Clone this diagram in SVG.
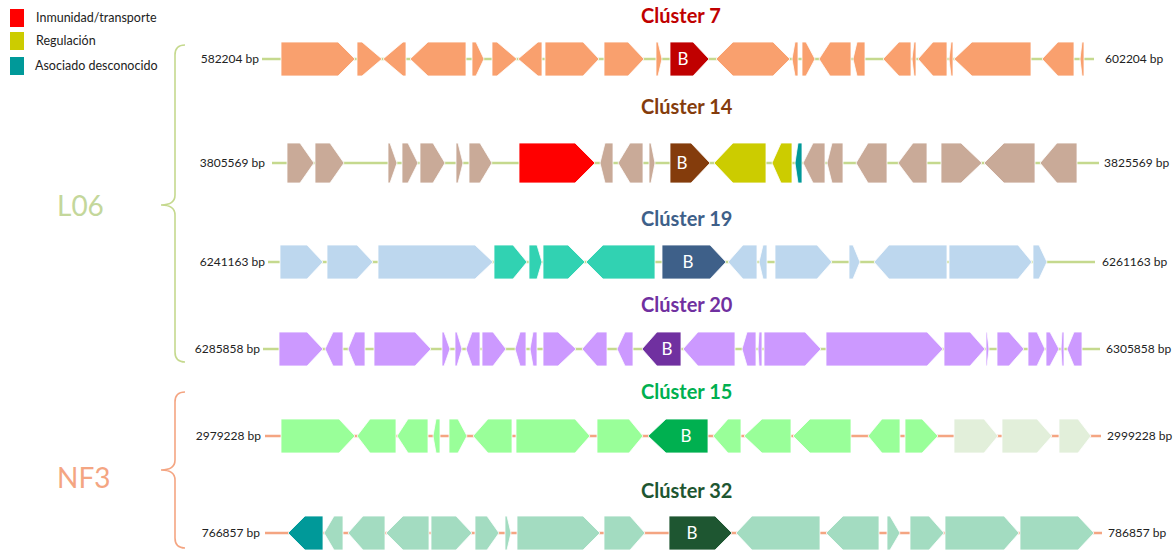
<svg xmlns="http://www.w3.org/2000/svg" width="1176" height="552" viewBox="0 0 1176 552">
<style>
text{font-family:Lato,"Liberation Sans",sans-serif}
.g polygon{stroke:#fff;stroke-width:0.8}
.c7{fill:#F9A06E}.tan{fill:#C9AA98}.lb{fill:#BDD7EE}.tq{fill:#31D2B2}.pu{fill:#CC99FF}
.lg{fill:#99FF99}.pg{fill:#E2EFDA}.mt{fill:#A3DCC1}.red{fill:#FF0000}.yel{fill:#CCCC00}.teal{fill:#009999}
.lnG{stroke:#C5D98E;stroke-width:2.5}.lnO{stroke:#F4A582;stroke-width:2.5}
.bp{font-size:12px;fill:#222}
.ttl{font-size:20px;font-weight:bold}
.b{font-size:17px;fill:#fff;text-anchor:middle}
.leg{font-size:12.5px;fill:#222}
</style>
<g id="legend">
<rect x="10" y="9" width="14" height="18" fill="#FF0000"/>
<text class="leg" x="36" y="22">Inmunidad/transporte</text>
<rect x="10" y="32" width="14" height="18" fill="#CCCC00"/>
<text class="leg" x="36" y="45">Regulación</text>
<rect x="10" y="57" width="14" height="18" fill="#009999"/>
<text class="leg" x="35" y="70">Asociado desconocido</text>
</g>
<g id="group-L06">
<path d="M185,45 Q175,45 175,55 L175,195 Q175,205 161,205 Q175,205 175,215 L175,352 Q175,362 185,362" fill="none" stroke="#C5D98E" stroke-width="1.6"/>
<text x="57" y="216" font-size="28" fill="#C4D79B">L06</text>
</g>
<g id="group-NF3">
<path d="M185,392 Q175,392 175,402 L175,460 Q175,470 161,470 Q175,470 175,480 L175,538 Q175,548 185,548" fill="none" stroke="#F4A582" stroke-width="1.6"/>
<text x="57" y="488" font-size="28" fill="#F4A582">NF3</text>
</g>
<g id="connectors">
<line class="lnG" x1="262" y1="59" x2="1094" y2="59"/>
<line class="lnG" x1="272" y1="163" x2="1099" y2="163"/>
<line class="lnG" x1="268" y1="262" x2="1095" y2="262"/>
<line class="lnG" x1="263" y1="349" x2="1100" y2="349"/>
<line class="lnO" x1="265" y1="436" x2="1101" y2="436"/>
<line class="lnO" x1="265" y1="533" x2="1102" y2="533"/>
</g>
<g id="cluster7" class="g">
<text class="ttl" x="641" y="23" fill="#C00000">Clúster 7</text>
<text class="bp" x="259" y="63" text-anchor="end">582204 bp</text>
<text class="bp" x="1105" y="63">602204 bp</text>
<g class="c7">
<polygon points="281,42 338,42 355,59 338,76 281,76"/>
<polygon points="357,42 362,42 382,59 362,76 357,76"/>
<polygon points="383,59 403,42 406,42 406,76 403,76"/>
<polygon points="410,59 428,42 466,42 466,76 428,76"/>
<polygon points="472,42 476,42 484,59 476,76 472,76"/>
<polygon points="492,42 497,42 517,59 497,76 492,76"/>
<polygon points="518,59 538,42 542,42 542,76 538,76"/>
<polygon points="545,42 583,42 599,59 583,76 545,76"/>
<polygon points="604,42 628,42 644,59 628,76 604,76"/>
<polygon points="656,42 658,42 662,59 658,76 656,76"/>
<polygon points="716,59 733,42 773,42 790,59 773,76 733,76"/>
<polygon points="792,59 795,42 798,42 798,76 795,76"/>
<polygon points="802,42 806,42 815,59 806,76 802,76"/>
<polygon points="819,59 830,42 851,42 851,76 830,76"/>
<polygon points="853,59 857,42 865,42 865,76 857,76"/>
<polygon points="883,59 899,42 911,42 911,76 899,76"/>
<polygon points="912,59 914,42 916,42 916,76 914,76"/>
<polygon points="918,59 933,42 947,42 947,76 933,76"/>
<polygon points="949,59 951,42 953,42 953,76 951,76"/>
<polygon points="954,59 972,42 1031,42 1031,76 972,76"/>
<polygon points="1042,59 1058,42 1074,42 1074,76 1058,76"/>
<polygon points="1080,59 1082,42 1084,42 1084,76 1082,76"/>
</g>
<polygon points="670,42 693,42 709,59 693,76 670,76" fill="#C00000"/>
<text class="b" x="683" y="65">B</text>
</g>
<g id="cluster14" class="g">
<text class="ttl" x="641" y="114" fill="#843C0C">Clúster 14</text>
<text class="bp" x="265" y="167" text-anchor="end">3805569 bp</text>
<text class="bp" x="1104" y="167">3825569 bp</text>
<g class="tan">
<polygon points="287,143 300,143 314,163 300,183 287,183"/>
<polygon points="315,143 330,143 344,163 330,183 315,183"/>
<polygon points="388,143 390,143 397,163 390,183 388,183"/>
<polygon points="402,143 408,143 418,163 408,183 402,183"/>
<polygon points="420,143 433,143 445,163 433,183 420,183"/>
<polygon points="456,143 458,143 463,163 458,183 456,183"/>
<polygon points="469,143 480,143 492,163 480,183 469,183"/>
<polygon points="600,163 605,143 613,143 613,183 605,183"/>
<polygon points="618,163 630,143 643,143 643,183 630,183"/>
<polygon points="649,143 651,143 655,163 651,183 649,183"/>
<polygon points="803,163 813,143 825,143 825,183 813,183"/>
<polygon points="827,163 832,143 843,143 843,183 832,183"/>
<polygon points="856,163 868,143 887,143 887,183 868,183"/>
<polygon points="898,163 913,143 927,143 927,183 913,183"/>
<polygon points="941,143 961,143 982,163 961,183 941,183"/>
<polygon points="984,163 1004,143 1035,143 1035,183 1004,183"/>
<polygon points="1040,163 1057,143 1077,143 1077,183 1057,183"/>
</g>
<polygon class="red" points="519,143 575,143 595,163 575,183 519,183"/>
<polygon class="yel" points="714,163 733,143 766,143 766,183 733,183"/>
<polygon class="yel" points="772,163 781,143 792,143 792,183 781,183"/>
<polygon class="teal" points="795,163 798,143 802,143 802,183 798,183"/>
<polygon points="670,143 691,143 710,163 691,183 670,183" fill="#843C0C"/>
<text class="b" x="682" y="169">B</text>
</g>
<g id="cluster19" class="g">
<text class="ttl" x="641" y="226" fill="#3E6089">Clúster 19</text>
<text class="bp" x="265" y="266" text-anchor="end">6241163 bp</text>
<text class="bp" x="1102" y="266">6261163 bp</text>
<g class="lb">
<polygon points="280,245 307,245 323,262 307,279 280,279"/>
<polygon points="327,245 357,245 373,262 357,279 327,279"/>
<polygon points="378,245 475,245 493,262 475,279 378,279"/>
<polygon points="728,262 743,245 757,245 757,279 743,279"/>
<polygon points="759,262 763,245 767,245 767,279 763,279"/>
<polygon points="775,245 817,245 832,262 817,279 775,279"/>
<polygon points="849,245 853,245 860,262 853,279 849,279"/>
<polygon points="874,262 889,245 947,245 947,279 889,279"/>
<polygon points="949,245 1018,245 1032,262 1018,279 949,279"/>
<polygon points="1033,245 1039,245 1047,262 1039,279 1033,279"/>
</g>
<g class="tq">
<polygon points="494,245 513,245 527,262 513,279 494,279"/>
<polygon points="529,245 537,245 542,262 537,279 529,279"/>
<polygon points="543,245 568,245 585,262 568,279 543,279"/>
<polygon points="586,262 603,245 655,245 655,279 603,279"/>
</g>
<polygon points="662,245 710,245 726,262 710,279 662,279" fill="#3E6089"/>
<text class="b" x="688" y="268">B</text>
</g>
<g id="cluster20" class="g">
<text class="ttl" x="641" y="312" fill="#7030A0">Clúster 20</text>
<text class="bp" x="260" y="353" text-anchor="end">6285858 bp</text>
<text class="bp" x="1106" y="353">6305858 bp</text>
<g class="pu">
<polygon points="279,332 307,332 323,349 307,366 279,366"/>
<polygon points="325,349 333,332 343,332 343,366 333,366"/>
<polygon points="348,349 355,332 365,332 365,366 355,366"/>
<polygon points="374,332 415,332 431,349 415,366 374,366"/>
<polygon points="442,332 444,332 450,349 444,366 442,366"/>
<polygon points="455,332 457,332 462,349 457,366 455,366"/>
<polygon points="466,349 472,332 480,332 480,366 472,366"/>
<polygon points="482,332 493,332 506,349 493,366 482,366"/>
<polygon points="515,349 520,332 526,332 526,366 520,366"/>
<polygon points="530,349 533,332 537,332 537,366 533,366"/>
<polygon points="543,332 558,332 576,349 558,366 543,366"/>
<polygon points="582,349 597,332 607,332 607,366 597,366"/>
<polygon points="617,349 625,332 633,332 633,366 625,366"/>
<polygon points="683,349 698,332 735,332 735,366 698,366"/>
<polygon points="742,349 747,332 756,332 756,366 747,366"/>
<polygon points="758,349 759,332 762,332 762,366 759,366"/>
<polygon points="764,332 805,332 821,349 805,366 764,366"/>
<polygon points="826,332 927,332 943,349 927,366 826,366"/>
<polygon points="944,332 970,332 985,349 970,366 944,366"/>
<polygon points="986,332 987,332 989,349 987,366 986,366"/>
<polygon points="997,332 1009,332 1024,349 1009,366 997,366"/>
<polygon points="1028,332 1037,332 1045,349 1037,366 1028,366"/>
<polygon points="1046,332 1050,332 1059,349 1050,366 1046,366"/>
<polygon points="1061,349 1062,332 1064,332 1064,366 1062,366"/>
<polygon points="1067,349 1074,332 1082,332 1082,366 1074,366"/>
</g>
<polygon points="642,349 657,332 681,332 681,366 657,366" fill="#7030A0"/>
<text class="b" x="667" y="355">B</text>
</g>
<g id="cluster15" class="g">
<text class="ttl" x="641" y="399" fill="#00B050">Clúster 15</text>
<text class="bp" x="261" y="440" text-anchor="end">2979228 bp</text>
<text class="bp" x="1107" y="440">2999228 bp</text>
<g class="lg">
<polygon points="281,419 339,419 355,436 339,453 281,453"/>
<polygon points="357,436 370,419 396,419 396,453 370,453"/>
<polygon points="397,436 408,419 428,419 428,453 408,453"/>
<polygon points="433,436 436,419 440,419 440,453 436,453"/>
<polygon points="449,419 458,419 467,436 458,453 449,453"/>
<polygon points="473,436 488,419 512,419 512,453 488,453"/>
<polygon points="516,419 575,419 590,436 575,453 516,453"/>
<polygon points="597,419 629,419 643,436 629,453 597,453"/>
<polygon points="713,436 728,419 741,419 741,453 728,453"/>
<polygon points="744,436 762,419 791,419 791,453 762,453"/>
<polygon points="793,436 810,419 851,419 851,453 810,453"/>
<polygon points="868,436 882,419 900,419 900,453 882,453"/>
<polygon points="905,419 922,419 938,436 922,453 905,453"/>
</g>
<g class="pg">
<polygon points="954,419 984,419 998,436 984,453 954,453"/>
<polygon points="1002,419 1037,419 1052,436 1037,453 1002,453"/>
<polygon points="1059,419 1078,419 1091,436 1078,453 1059,453"/>
</g>
<polygon points="648,436 666,419 708,419 708,453 666,453" fill="#00B050"/>
<text class="b" x="686" y="442">B</text>
</g>
<g id="cluster32" class="g">
<text class="ttl" x="641" y="498" fill="#1E5631">Clúster 32</text>
<text class="bp" x="260" y="537" text-anchor="end">766857 bp</text>
<text class="bp" x="1108" y="537">786857 bp</text>
<g class="mt">
<polygon points="324,533 334,516 343,516 343,550 334,550"/>
<polygon points="348,533 363,516 385,516 385,550 363,550"/>
<polygon points="386,533 403,516 429,516 429,550 403,550"/>
<polygon points="431,516 456,516 472,533 456,550 431,550"/>
<polygon points="475,516 487,516 499,533 487,550 475,550"/>
<polygon points="505,516 507,516 511,533 507,550 505,550"/>
<polygon points="517,516 583,516 600,533 583,550 517,550"/>
<polygon points="604,516 630,516 645,533 630,550 604,550"/>
<polygon points="736,533 752,516 820,516 820,550 752,550"/>
<polygon points="826,533 843,516 879,516 879,550 843,550"/>
<polygon points="887,516 890,516 900,533 890,550 887,550"/>
<polygon points="910,516 929,516 944,533 929,550 910,550"/>
<polygon points="945,516 1004,516 1019,533 1004,550 945,550"/>
<polygon points="1020,516 1078,516 1094,533 1078,550 1020,550"/>
</g>
<polygon class="teal" points="288,533 305,516 323,516 323,550 305,550"/>
<polygon points="669,516 715,516 732,533 715,550 669,550" fill="#1E5631"/>
<text class="b" x="692" y="539">B</text>
</g>
</svg>
